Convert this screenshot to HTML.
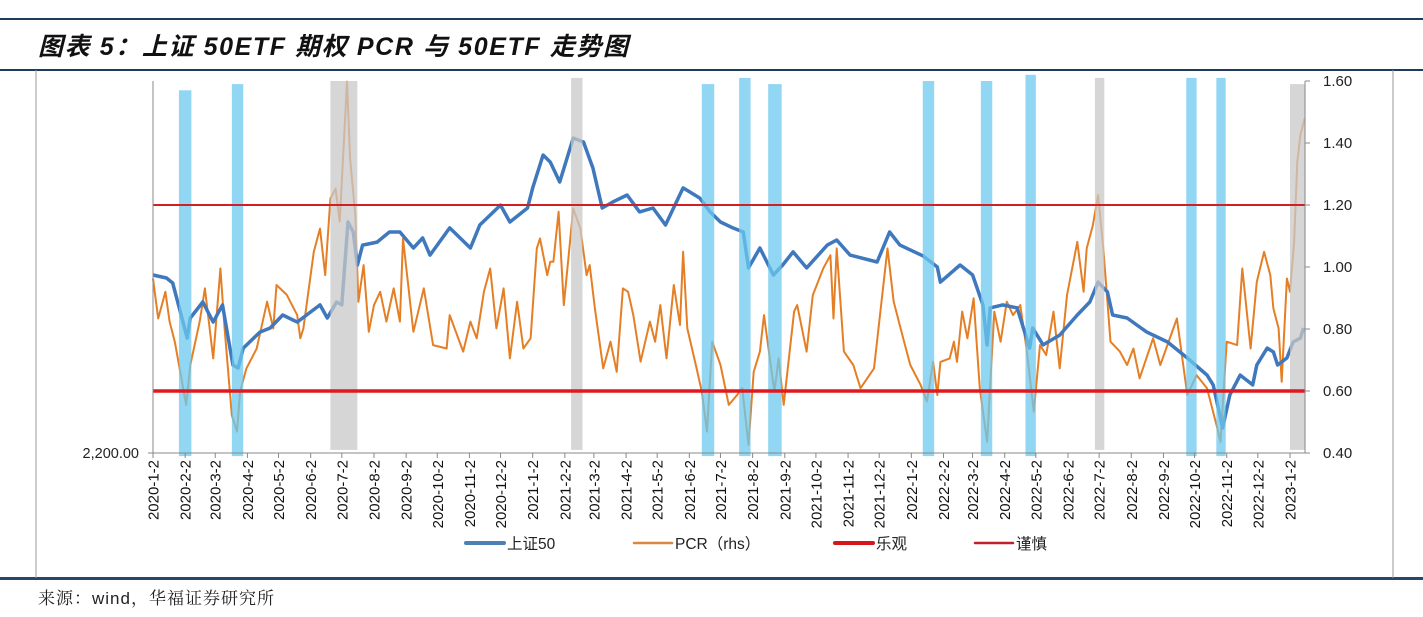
<!DOCTYPE html>
<html><head><meta charset="utf-8">
<style>
html,body{margin:0;padding:0;background:#fff;}
body{width:1423px;height:617px;position:relative;overflow:hidden;font-family:"Liberation Sans","Noto Sans CJK SC",sans-serif;}
.rule{position:absolute;left:0;width:1423px;background:#1f3b5a;}
#title{position:absolute;left:38px;top:27px;font-size:25px;font-weight:bold;font-style:italic;color:#111;letter-spacing:1.6px;}
#source{position:absolute;left:38px;top:584px;font-size:17px;color:#222;letter-spacing:1px;font-family:"Liberation Sans","Noto Serif CJK SC",serif;}
svg{position:absolute;left:0;top:0;}
</style></head>
<body>
<div class="rule" style="top:18px;height:2px;"></div>
<div id="title">图表 5：上证 50ETF 期权 PCR 与 50ETF 走势图</div>
<div class="rule" style="top:69px;height:2px;"></div>
<div class="rule" style="top:577px;height:3px;background:#27466b;"></div>
<div id="source">来源：wind，华福证券研究所</div>
<svg id="chart" width="1423" height="617"></svg>
<script>
// ---- data ----
const startDate = "2020-01-02";
const sseDays = [0,13,19,33,36,48,58,67,77,82,87,103,113,125,139,161,168,177,182,188,193,197,202,216,228,238,251,260,267,286,306,315,335,344,361,366,376,383,392,405,415,424,433,443,457,469,482,494,511,527,537,547,559,569,574,585,598,607,617,630,650,659,672,698,710,720,742,756,759,778,790,800,804,807,819,833,845,848,858,874,891,903,911,920,925,939,958,978,997,1016,1022,1031,1038,1048,1060,1064,1074,1080,1084,1093,1099,1106,1109];
const sseValues = [3157,3141,3114,2818,2926,3012,2904,2996,2673,2657,2764,2850,2872,2942,2904,2996,2926,3012,2996,3442,3388,3211,3318,3334,3388,3388,3302,3356,3264,3410,3302,3426,3533,3442,3517,3625,3802,3764,3657,3893,3872,3732,3517,3549,3587,3496,3517,3426,3625,3571,3496,3442,3410,3388,3195,3302,3157,3211,3281,3195,3318,3345,3264,3227,3388,3318,3260,3200,3119,3211,3157,2996,2781,2980,2996,2980,2764,2872,2781,2834,2942,3012,3119,3066,2942,2926,2850,2797,2711,2619,2566,2334,2512,2619,2566,2673,2764,2743,2673,2711,2797,2818,2872];
const pcrDays = [0,5,12,16,21,32,36,45,50,58,65,69,76,81,84,90,100,110,116,119,129,139,142,145,155,161,166,171,176,180,184,187,190,195,198,203,208,213,219,225,232,238,241,251,261,270,283,286,299,306,312,319,325,331,338,344,351,357,364,370,373,380,383,386,391,396,402,405,412,418,421,426,434,441,447,453,458,463,470,479,484,489,495,502,508,511,515,524,529,534,539,547,555,563,568,574,579,585,589,595,599,603,608,618,621,630,636,646,653,656,659,666,675,682,695,708,714,724,730,740,746,752,756,759,768,772,775,780,785,791,797,804,807,811,817,823,829,836,842,849,855,861,868,874,881,891,897,900,906,911,916,923,932,939,945,951,964,971,987,997,1006,1016,1026,1029,1035,1045,1050,1058,1064,1071,1077,1080,1085,1088,1093,1096,1100,1103,1106,1110];
const pcrValues = [0.963,0.834,0.920,0.824,0.759,0.555,0.684,0.824,0.931,0.705,0.995,0.802,0.522,0.469,0.598,0.673,0.737,0.888,0.802,0.942,0.910,0.845,0.770,0.802,1.049,1.124,0.974,1.221,1.253,1.146,1.404,1.598,1.350,1.167,0.888,1.006,0.791,0.877,0.920,0.824,0.931,0.824,1.092,0.791,0.931,0.748,0.737,0.845,0.727,0.824,0.770,0.920,0.995,0.802,0.931,0.705,0.888,0.737,0.770,1.060,1.092,0.974,1.017,1.017,1.178,0.877,1.081,1.189,1.124,0.974,1.006,0.866,0.673,0.759,0.662,0.931,0.920,0.845,0.695,0.824,0.759,0.877,0.705,0.942,0.813,1.049,0.802,0.673,0.598,0.469,0.759,0.684,0.555,0.587,0.609,0.426,0.662,0.727,0.845,0.694,0.598,0.705,0.555,0.856,0.877,0.727,0.909,0.995,1.038,0.834,1.060,0.727,0.684,0.609,0.673,1.060,0.888,0.759,0.684,0.619,0.566,0.694,0.587,0.694,0.705,0.759,0.694,0.856,0.770,0.899,0.608,0.436,0.619,0.856,0.759,0.888,0.845,0.877,0.737,0.533,0.748,0.716,0.856,0.673,0.909,1.081,0.920,1.060,1.135,1.232,1.060,0.759,0.727,0.684,0.737,0.641,0.770,0.684,0.834,0.587,0.651,0.609,0.479,0.436,0.759,0.748,0.995,0.737,0.952,1.049,0.974,0.866,0.802,0.630,0.963,0.920,1.081,1.340,1.425,1.479];
const blueBandStart = [25,76,529,565,593,742,798,841,996,1025];
const blueBandEnd   = [37,87,541,576,606,753,809,851,1006,1034];
const blueBandTop   = [1.57,1.59,1.59,1.61,1.59,1.60,1.60,1.62,1.61,1.61];
const greyBandStart = [171,403,908,1096];
const greyBandEnd   = [197,414,917,1111];
const greyBandTop   = [1.60,1.61,1.61,1.59];
const rightTicks = [0.40,0.60,0.80,1.00,1.20,1.40,1.60];
const optimisticLevel = 0.60;
const cautiousLevel = 1.20;
const leftMin = 2200, leftMax = 4200;

// ---- scales ----
const X0=153, X1=1305, YT=81, YB=453;
const pxPerDay = (1290-153)/1096;
const t0 = Date.UTC(2020,0,2);
const xDay = d => X0 + d*pxPerDay;
const xDate = (y,m,dd) => xDay((Date.UTC(y,m,dd)-t0)/86400000);
const yR = v => YB - (v-0.4)/1.2*(YB-YT);
const yL = v => YB - (v-leftMin)/(leftMax-leftMin)*(YB-YT);

const NS="http://www.w3.org/2000/svg";
const svg=document.getElementById('chart');
function mk(tag,attrs,parent){const e=document.createElementNS(NS,tag);for(const k in attrs)e.setAttribute(k,attrs[k]);(parent||svg).appendChild(e);return e;}

let fr=mk('line',{x1:36,y1:70,x2:36,y2:578,stroke:'#9a9a9a','stroke-width':1});


fr=mk('line',{x1:1393,y1:70,x2:1393,y2:578,stroke:'#9a9a9a','stroke-width':1});



function path(days,vals,yf){return days.map((d,i)=>(i?'L':'M')+xDay(d).toFixed(1)+','+yf(vals[i]).toFixed(1)).join(' ');}
const pcrLine=mk('path',{d:path(pcrDays,pcrValues,yR),fill:'none',stroke:'#e57f25','stroke-width':2,'stroke-linejoin':'round'});


const sseLine=mk('path',{d:path(sseDays,sseValues,yL),fill:'none',stroke:'#3f78bd','stroke-width':3.5,'stroke-linejoin':'round'});



blueBandStart.forEach((s,i)=>{
  const r=mk('rect',{x:xDay(s),y:yR(blueBandTop[i]),width:xDay(blueBandEnd[i])-xDay(s),height:yR(0.39)-yR(blueBandTop[i]),fill:'#6cc8ee',opacity:0.75});
  
  
});
greyBandStart.forEach((s,i)=>{
  const r=mk('rect',{x:xDay(s),y:yR(greyBandTop[i]),width:xDay(greyBandEnd[i])-xDay(s),height:yR(0.41)-yR(greyBandTop[i]),fill:'#c8c8c8',opacity:0.75});
  
  
});

let hl=mk('line',{x1:X0,x2:X1,y1:yR(cautiousLevel),y2:yR(cautiousLevel),stroke:'#d21f26','stroke-width':2});


hl=mk('line',{x1:X0,x2:X1,y1:yR(optimisticLevel),y2:yR(optimisticLevel),stroke:'#e0181f','stroke-width':3.5});



let ax=mk('line',{x1:X0,y1:YT,x2:X0,y2:YB,stroke:'#888','stroke-width':1});


ax=mk('line',{x1:X1,y1:YT,x2:X1,y2:YB,stroke:'#888','stroke-width':1});


ax=mk('line',{x1:X0,y1:YB,x2:X1,y2:YB,stroke:'#888','stroke-width':1});


mk('line',{x1:X0-5,y1:YB,x2:X0,y2:YB,stroke:'#888'});
let lt=mk('text',{x:X0-14,y:YB+5,'text-anchor':'end','font-size':14.5,fill:'#222'});
lt.textContent='2,200.00';



rightTicks.forEach(v=>{
  mk('line',{x1:X1,y1:yR(v),x2:X1+5,y2:yR(v),stroke:'#888'});
  const t=mk('text',{x:X1+18,y:yR(v)+5,'font-size':15,fill:'#222'});
  t.textContent=v.toFixed(2);
  
  
});

for(let k=0;k<=36;k++){
  const yy=2020+Math.floor(k/12), mm=k%12;
  const x=xDate(yy,mm,2);
  mk('line',{x1:x,y1:YB,x2:x,y2:YB+5,stroke:'#888'});
  const t=mk('text',{x:0,y:0,'text-anchor':'end','font-size':15,fill:'#111',transform:`translate(${(x+5.5).toFixed(1)},${YB+7}) rotate(-90)`});
  t.textContent=`${yy}-${mm+1}-2`;
  
  
}

const legend=[['上证50','#4f7fb5',4,466],['PCR（rhs）','#d9883f',2.5,634],['乐观','#d8151c',4,835],['谨慎','#c0202a',2.5,975]];
legend.forEach(l=>{
  const g=mk('g',{});
  
  
  mk('line',{x1:l[3],x2:l[3]+38,y1:543,y2:543,stroke:l[1],'stroke-width':l[2],'stroke-linecap':'round'},g);
  const t=mk('text',{x:l[3]+41,y:549,'font-size':15.5,fill:'#222'},g);
  t.textContent=l[0];
});
</script>
</body></html>
